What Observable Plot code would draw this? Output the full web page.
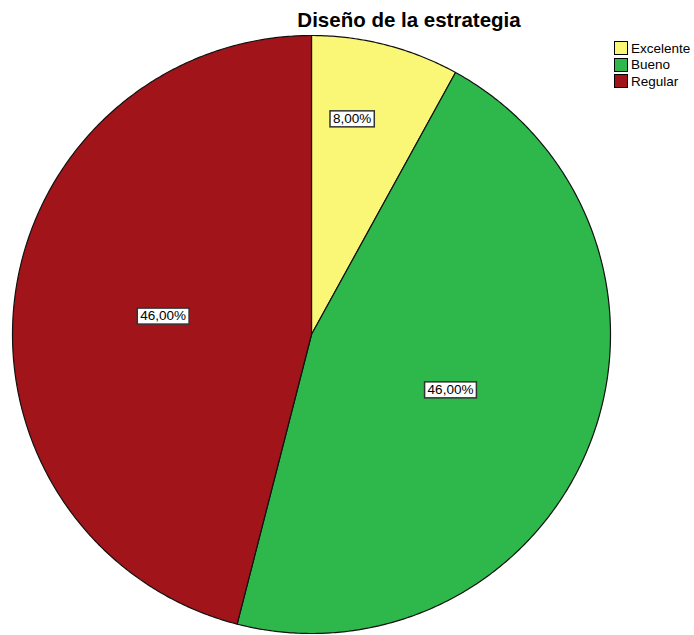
<!DOCTYPE html>
<html>
<head>
<meta charset="utf-8">
<script src="https://cdn.jsdelivr.net/npm/d3@7"></script>
<script src="https://cdn.jsdelivr.net/npm/@observablehq/plot@0.6"></script>
<style>
  html, body { margin: 0; padding: 0; background: #fff; }
  #wrap { position: relative; width: 694px; height: 635px; overflow: hidden; }
  #title { position: absolute; left: 0; width: 818px; top: 8px; text-align: center; line-height: 23px;
           font: bold 20.5px "Liberation Sans", Arial, sans-serif; color: #000; }
  #legend { position: absolute; left: 614px; top: 40px; font: 13.5px "Liberation Sans", Arial, sans-serif; color: #000; }
  .row { display: flex; align-items: center; height: 16.5px; white-space: nowrap; }
  .sw { width: 12px; height: 12px; border: 1px solid #000; margin-right: 3px; box-sizing: content-box; }
</style>
</head>
<body>
<div id="wrap">
  <div id="title">Diseño de la estrategia</div>
  <div id="legend"></div>
</div>
<script>
const categories = ["Excelente", "Bueno", "Regular"];
const percentages = [8, 46, 46];
const colors = ["#f9f775", "#2eb84b", "#a1151a"];
const labels = ["8,00%", "46,00%", "46,00%"];

// build slice outlines from the data
const total = d3.sum(percentages);
const slices = [];
const labelPts = [];
let acc = 0;
categories.forEach((cat, i) => {
  const a0 = acc / total * 2 * Math.PI;
  acc += percentages[i];
  const a1 = acc / total * 2 * Math.PI;
  slices.push({cat, x: 0, y: 0});
  const n = Math.max(2, Math.ceil((a1 - a0) / (Math.PI / 360)));
  for (let k = 0; k <= n; k++) {
    const a = a0 + (a1 - a0) * k / n;
    slices.push({cat, x: Math.sin(a), y: -Math.cos(a)});
  }
  slices.push({cat, x: 0, y: 0});
  const share = percentages[i] / total;
  const am = share < 0.15 ? a0 + (a1 - a0) * 0.37 : (a0 + a1) / 2;
  const rr = share < 0.15 ? 0.735 : 0.5;
  labelPts.push({label: labels[i], x: rr * Math.sin(am), y: -rr * Math.cos(am)});
});

const chart = Plot.plot({
  width: 694,
  height: 635,
  margin: 0,
  x: {domain: [-1, 1], range: [12, 610], axis: null},
  y: {domain: [-1, 1], range: [35, 633], axis: null},
  color: {domain: categories, range: colors},
  style: {background: "transparent"},
  marks: [
    Plot.line(slices, {x: "x", y: "y", z: "cat", fill: "cat", stroke: "#111", strokeWidth: 1.2, curve: "linear", strokeLinejoin: "round"}),
    Plot.text(labelPts, {x: "x", y: "y", text: "label", fontSize: 13.5, fontFamily: "Liberation Sans, Arial, sans-serif", fill: "#000"})
  ]
});
chart.style.position = "absolute";
chart.style.left = "0";
chart.style.top = "0";
const wrap = document.getElementById("wrap");
wrap.insertBefore(chart, wrap.firstChild);

// white boxes behind labels
chart.querySelectorAll('g[aria-label="text"] text').forEach(t => {
  const b = t.getBBox();
  const r = document.createElementNS("http://www.w3.org/2000/svg", "rect");
  r.setAttribute("x", b.x - 3);
  r.setAttribute("y", b.y);
  r.setAttribute("width", b.width + 6);
  r.setAttribute("height", b.height + 1);
  r.setAttribute("fill", "#fff");
  r.setAttribute("stroke", "#333");
  r.setAttribute("stroke-width", 1.5);
  const tr = t.getAttribute("transform");
  if (tr) r.setAttribute("transform", tr);
  t.parentNode.insertBefore(r, t);
});

// legend
const lg = document.getElementById("legend");
categories.forEach((c, i) => {
  const row = document.createElement("div");
  row.className = "row";
  const sw = document.createElement("div");
  sw.className = "sw";
  sw.style.background = colors[i];
  const tx = document.createElement("span");
  tx.textContent = c;
  row.appendChild(sw);
  row.appendChild(tx);
  lg.appendChild(row);
});
</script>
</body>
</html>
